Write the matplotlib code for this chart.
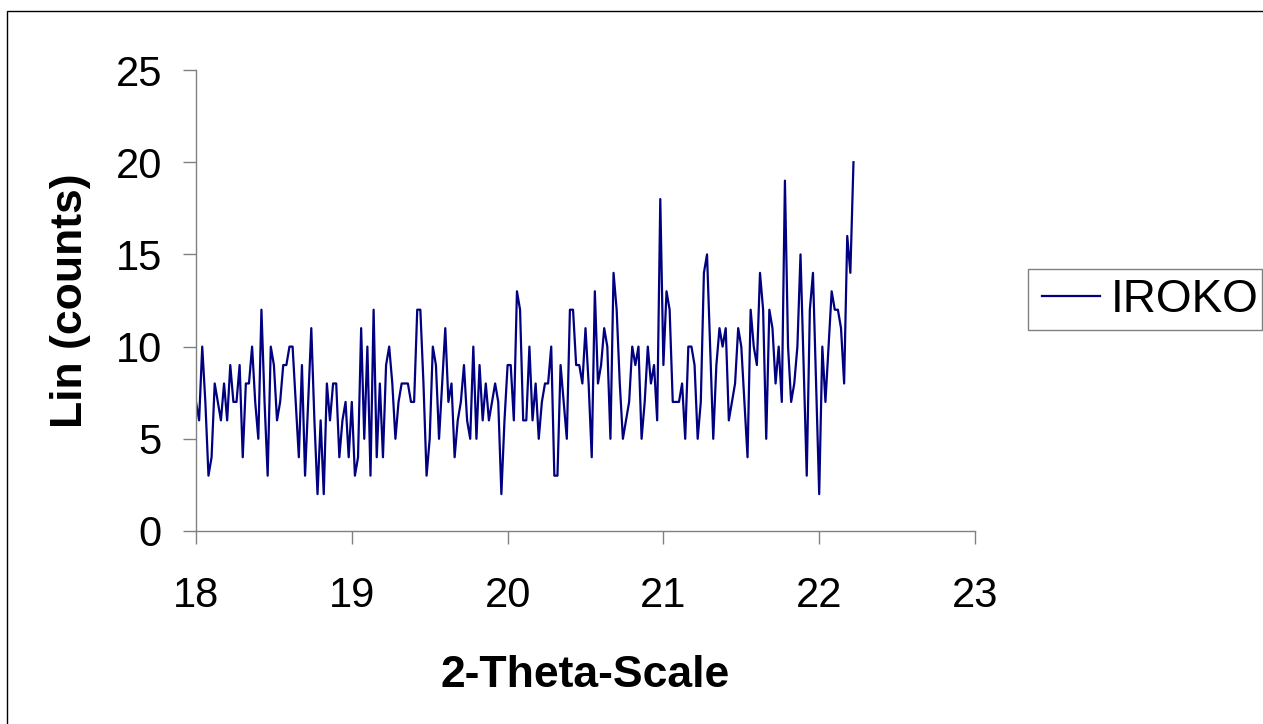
import matplotlib
matplotlib.use("Agg")
import matplotlib.pyplot as plt
from matplotlib.patches import Rectangle
import numpy as np

plt.rcParams['font.family'] = ['Liberation Sans', 'DejaVu Sans']

# XRD scan: 2-theta from 18.00 in 0.02 steps
two_theta_start = 18.0
two_theta_step = 0.02
counts = [
    7, 6, 10, 7, 3, 4, 8, 7, 6, 8, 6, 9, 7, 7, 9, 4, 8, 8, 10, 7,
    5, 12, 7, 3, 10, 9, 6, 7, 9, 9, 10, 10, 7, 4, 9, 3,
    7, 11, 6, 2, 6, 2, 8, 6, 8, 8, 4, 6, 7, 4, 7, 3, 4, 11, 5, 10,
    3, 12, 4, 8, 4, 9, 10, 8, 5, 7, 8, 8, 8, 7, 7,
    12, 12, 8, 3, 5, 10, 9, 5, 8, 11, 7, 8, 4, 6, 7, 9, 6, 5, 10, 5,
    9, 6, 8, 6, 7, 8, 7, 2, 6, 9, 9, 6, 13, 12, 6,
    6, 10, 6, 8, 5, 7, 8, 8, 10, 3, 3, 9, 7, 5, 12, 12, 9, 9, 8, 11,
    8, 4, 13, 8, 9, 11, 10, 5, 14, 12, 8, 5, 6, 7, 10, 9,
    10, 5, 7, 10, 8, 9, 6, 18, 9, 13, 12, 7, 7, 7, 8, 5, 10, 10, 9, 5,
    7, 14, 15, 10, 5, 9, 11, 10, 11, 6, 7, 8, 11, 10, 7,
    4, 12, 10, 9, 14, 12, 5, 12, 11, 8, 10, 7, 19, 10, 7, 8, 10, 15, 9, 3,
    12, 14, 8, 2, 10, 7, 10, 13, 12, 12, 11, 8, 16, 14, 20,
]
series_name = 'IROKO'
x_ticks = [18, 19, 20, 21, 22, 23]
y_ticks = [0, 5, 10, 15, 20, 25]

two_theta = two_theta_start + two_theta_step * np.arange(len(counts))

W, H = 1263, 724
fig = plt.figure(figsize=(W / 100, H / 100), dpi=100)
ax = fig.add_axes([196 / W, 1 - 531 / H, (975 - 196) / W, (531 - 70) / H])

line, = ax.plot(two_theta, counts, color='#000080', lw=1.6, label=series_name)

ax.set_xlim(18, 23)
ax.set_ylim(0, 25)
ax.set_xticks(x_ticks)
ax.set_yticks(y_ticks)

grey = '#808080'
for side in ('top', 'right'):
    ax.spines[side].set_visible(False)
for side in ('left', 'bottom'):
    ax.spines[side].set_color(grey)
    ax.spines[side].set_linewidth(1.0)
ax.tick_params(axis='both', direction='out', length=9.5, width=1.0,
               color=grey, labelsize=30)
ax.tick_params(axis='y', pad=15)
ax.tick_params(axis='x', pad=23)

ax.set_xlabel('2-Theta-Scale', fontsize=32, fontweight='bold')
ax.set_ylabel('Lin (counts)', fontsize=32, fontweight='bold')
ax.xaxis.set_label_coords(0.5, -0.27)
ax.yaxis.set_label_coords(-0.135, 0.5)

# legend without its own frame; the box is drawn separately
leg = fig.legend(handles=[line], loc='center left',
                 bbox_to_anchor=(1042 / W, 1 - 300 / H),
                 fontsize=33, frameon=False,
                 handlelength=1.27, handletextpad=0.24,
                 borderpad=0.0, borderaxespad=0.0)
fig.patches.append(Rectangle((1028 / W, 1 - 330 / H), (1262 - 1028) / W,
                             (330 - 269) / H, transform=fig.transFigure,
                             fill=False, edgecolor=grey, lw=1.0))

# outer chart border
fig.patches.append(Rectangle((7 / W, -0.1), 1.2, 1 - 11 / H + 0.1,
                             transform=fig.transFigure, fill=False,
                             edgecolor='black', lw=1.0))

fig.savefig('out.png', dpi=100)
